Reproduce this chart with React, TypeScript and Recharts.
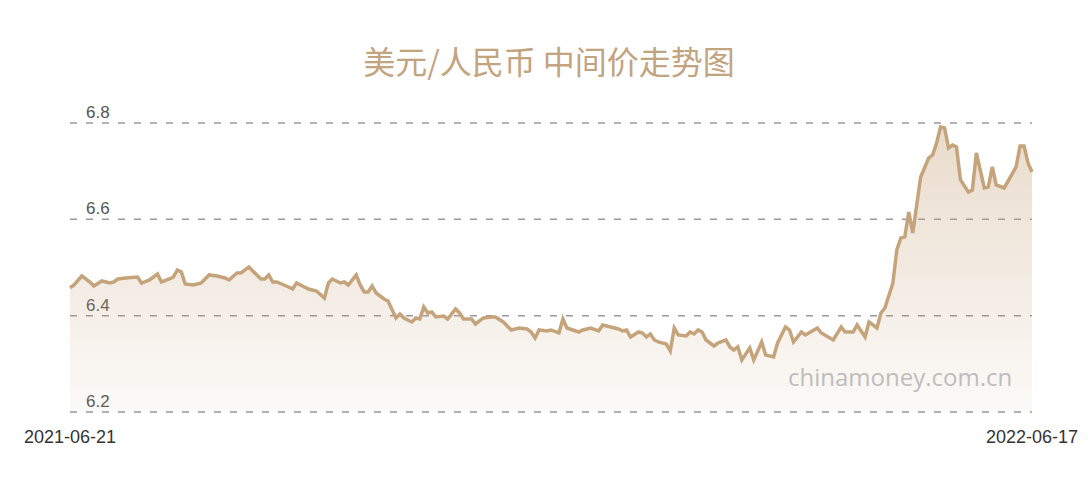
import { Area, AreaChart, CartesianGrid, XAxis, YAxis } from "recharts";

// trading-day index (0 = 2021-06-21, 242 = 2022-06-17)
const days = [
  0, 1, 3, 5, 6, 8, 10, 11, 12, 14, 17, 18, 20, 22, 23, 25, 26, 27, 28, 29,
  31, 33, 35, 37, 39, 40, 42, 43, 45, 46, 48, 49, 50, 51, 52, 55, 56, 57, 60, 62,
  64, 65, 66, 68, 69, 70, 72, 73, 74, 75, 76, 77, 79, 80, 82, 83, 84, 86, 87, 88,
  89, 90, 91, 92, 94, 95, 97, 98, 99, 101, 102, 104, 106, 107, 109, 111, 113, 115, 116, 117,
  118, 120, 121, 123, 124, 125, 128, 129, 131, 133, 134, 136, 138, 139, 140, 141, 143, 144, 145, 146,
  147, 148, 150, 151, 152, 153, 155, 156, 157, 158, 159, 160, 162, 163, 165, 166, 167, 168, 169, 171,
  172, 174, 175, 177, 178, 180, 181, 182, 184, 185, 188, 189, 192, 194, 195, 197, 198, 200, 201, 203,
  204, 205, 207, 208, 209, 210, 211, 212, 214, 216, 217, 218, 219, 220, 221, 222, 223, 224, 226, 227,
  228, 230, 231, 232, 233, 235, 238, 239, 240, 241, 242,
];

// USD/CNY central parity
const rates = [
  6.4581, 6.4637, 6.4824, 6.4699, 6.4616, 6.472, 6.4678, 6.4699, 6.4761, 6.4782,
  6.4803, 6.4678, 6.4741, 6.4865, 6.4699, 6.4761, 6.4803, 6.4948, 6.4907, 6.4658,
  6.4637, 6.4678, 6.4845, 6.4824, 6.4782, 6.4741, 6.4886, 6.4886, 6.5011, 6.4928,
  6.4761, 6.4761, 6.4845, 6.4699, 6.4699, 6.4595, 6.4554, 6.4678, 6.4554, 6.4512,
  6.4367, 6.4678, 6.4761, 6.4678, 6.4699, 6.4637, 6.4845, 6.4637, 6.4492, 6.4492,
  6.4616, 6.4471, 6.4346, 6.4305, 6.3952, 6.4035, 6.3952, 6.3869, 6.3952, 6.3931,
  6.418, 6.4056, 6.4076, 6.3973, 6.3993, 6.3931, 6.4139, 6.4056, 6.3931, 6.3931,
  6.3827, 6.3952, 6.3973, 6.3973, 6.3869, 6.3703, 6.3744, 6.3723, 6.3661, 6.3537,
  6.3703, 6.3682, 6.3703, 6.364, 6.3931, 6.3744, 6.3661, 6.3703, 6.3744, 6.3682,
  6.3807, 6.3765, 6.3723, 6.3682, 6.3703, 6.3557, 6.3661, 6.364, 6.3557, 6.362,
  6.3495, 6.3454, 6.3412, 6.3267, 6.3744, 6.3599, 6.3578, 6.3661, 6.362, 6.3703,
  6.3661, 6.3495, 6.3371, 6.3433, 6.3495, 6.335, 6.3288, 6.335, 6.308, 6.3329,
  6.308, 6.3454, 6.3184, 6.3142, 6.3433, 6.3765, 6.3703, 6.3454, 6.3661, 6.3599,
  6.3744, 6.364, 6.3495, 6.3765, 6.3661, 6.3661, 6.3807, 6.3557, 6.3869, 6.3744,
  6.4056, 6.4159, 6.4678, 6.5364, 6.5613, 6.5634, 6.6152, 6.5716, 6.6879, 6.7273,
  6.7336, 6.7585, 6.7917, 6.7896, 6.7481, 6.7543, 6.7502, 6.6817, 6.6568, 6.6609,
  6.7377, 6.6651, 6.6671, 6.7087, 6.6713, 6.6651, 6.7087, 6.7523, 6.7523, 6.717,
  6.6983,
];

const yTicks = [6.2, 6.4, 6.6, 6.8];
const xTicks = [0, 242];
const xTickLabels = ["2021-06-21", "2022-06-17"];

const data = days.map((day, i) => ({ day, rate: rates[i] }));

const W = 1076;
const H = 470;
const font = "'Liberation Sans', Arial, sans-serif";

const renderYTick = ({ y, payload }: any) => (
  <text key={payload.value} x={78} y={y - 5} fill="#555" fontSize={17} fontFamily={font}>
    {Number(payload.value).toFixed(1)}
  </text>
);

// grid, axes and labels sit underneath; the filled area is layered on top (like the original)
export default function App() {
  return (
    <div style={{ position: "relative", width: W, height: H }}>
      <div
        style={{
          position: "absolute",
          top: 36,
          left: 3,
          width: W,
          textAlign: "center",
          fontSize: 32,
          lineHeight: 1,
          color: "#c2a47f",
          fontFamily: "'Noto Sans CJK SC', sans-serif",
        }}
      >
        美元/人民币 中间价走势图
      </div>
      <div style={{ position: "absolute", top: 0, left: 0 }}>
        <AreaChart width={W} height={H} data={data} margin={{ top: 115, right: 52, bottom: 26, left: 61 }}>
          <CartesianGrid vertical={false} stroke="#999" strokeWidth={1.5} strokeDasharray="7 9" />
          <XAxis
            dataKey="day"
            type="number"
            domain={[0, 242]}
            ticks={xTicks}
            interval={0}
            tickFormatter={(v: number) => xTickLabels[xTicks.indexOf(v)]}
            axisLine={false}
            tickLine={false}
            tickSize={0}
            tickMargin={18}
            height={40}
            tick={{ fill: "#333", fontSize: 18, fontFamily: font }}
          />
          <YAxis
            type="number"
            domain={[6.2, 6.8]}
            ticks={yTicks}
            interval={0}
            width={1}
            axisLine={false}
            tickLine={false}
            tickSize={0}
            tickMargin={0}
            tick={renderYTick}
          />
          <Area
            type="linear"
            dataKey="rate"
            stroke="none"
            fill="none"
            isAnimationActive={false}
            dot={false}
            activeDot={false}
          />
        </AreaChart>
      </div>
      <div style={{ position: "absolute", top: 0, left: 0 }}>
        <AreaChart width={W} height={H} data={data} margin={{ top: 115, right: 52, bottom: 26, left: 61 }}>
          <defs>
            <linearGradient id="rateFill" x1="0" y1="0" x2="0" y2="1">
              <stop offset="0%" stopColor="#c9a882" stopOpacity={0.68} />
              <stop offset="100%" stopColor="#c9a882" stopOpacity={0.1} />
            </linearGradient>
          </defs>
          <XAxis dataKey="day" type="number" domain={[0, 242]} height={40} tick={false} axisLine={false} tickLine={false} />
          <YAxis type="number" domain={[6.2, 6.8]} width={1} tick={false} axisLine={false} tickLine={false} />
          <Area
            type="linear"
            dataKey="rate"
            stroke="#c5a47c"
            strokeWidth={3.5}
            fill="url(#rateFill)"
            isAnimationActive={false}
            dot={false}
            activeDot={false}
          />
        </AreaChart>
      </div>
      <div
        style={{
          position: "absolute",
          top: 357,
          left: 780,
          fontSize: 24,
          lineHeight: 1,
          color: "#bdbdbd",
          fontFamily: "'Open Sans', sans-serif",
        }}
      >
        chinamoney.com.cn
      </div>
    </div>
  );
}
